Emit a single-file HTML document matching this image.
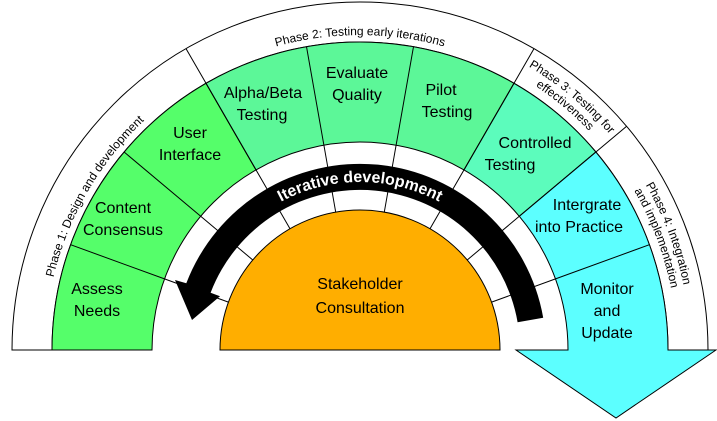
<!DOCTYPE html>
<html><head><meta charset="utf-8"><style>
html,body{margin:0;padding:0;background:#fff}
svg{display:block}
text{font-family:"Liberation Sans",sans-serif}
.l{font-size:16px;fill:#000;text-anchor:middle}
.p{font-size:12px;fill:#000;text-anchor:middle}
</style></head><body>
<svg width="717" height="421" viewBox="0 0 717 421" xmlns="http://www.w3.org/2000/svg">
<defs>
<path id="pa" d="M45,350 A315,315 0 0 1 675,350"/>
<path id="pb" d="M30,350 A330,330 0 0 1 690,350"/>
<path id="pc" d="M43,350 A317,317 0 0 1 677,350"/>
<path id="it" d="M192,350 A168,168 0 0 1 528,350"/>
</defs>
<g stroke="#000" stroke-width="1">
<path d="M12,350 A348,348 0 0 1 708,350 L668,350 A308,308 0 0 0 52,350 Z" fill="#fff"/>
<path d="M52,350 A308,308 0 0 1 206,83.3 L256,169.9 A208,208 0 0 0 152,350 Z" fill="#55fe6a"/>
<path d="M206,83.3 A308,308 0 0 1 514,83.3 L464,169.9 A208,208 0 0 0 256,169.9 Z" fill="#5cf798"/>
<path d="M514,83.3 A308,308 0 0 1 595.9,152 L519.3,216.3 A208,208 0 0 0 464,169.9 Z" fill="#5cfcbc"/>
<path d="M595.9,152 A308,308 0 0 1 668,350 L716,350 L616,418 L516,350 L568,350 A208,208 0 0 0 519.3,216.3 Z" fill="#5cffff"/>
<path d="M70.6,244.7 L164.5,278.9 M124.1,152 L200.7,216.3 M256,169.9 L206,83.3 M306.5,46.7 L323.9,145.2 M413.5,46.7 L396.1,145.2 M514,83.3 L464,169.9 M595.9,152 L519.3,216.3 M649.4,244.7 L555.5,278.9" fill="none"/>
<path d="M206,83.3 L186,48.6 M514,83.3 L534,48.6 M595.9,152 L626.6,126.3" fill="none"/>
<path d="M164.5,278.9 L228.4,302.1 M200.7,216.3 L252.8,260 M256,169.9 L290,228.8 M323.9,145.2 L335.7,212.1 M396.1,145.2 L384.3,212.1 M464,169.9 L430,228.8 M519.3,216.3 L467.2,260 M555.5,278.9 L491.6,302.1" fill="none"/>
<path d="M220,350 A140,140 0 0 1 500,350 Z" fill="#ffae00"/>
<path d="M12,350 L52,350" fill="none"/>
</g>
<path d="M543.2,317.7 A186,186 0 0 0 186.3,283.3 L175,280 L192,320 L220,296.2 L210.6,292.7 A160,160 0 0 1 517.6,322.2 Z" fill="#000"/>
<text font-size="16" font-weight="bold" fill="#fff" text-anchor="middle"><textPath href="#it" startOffset="50%">Iterative development</textPath></text>
<text class="p"><textPath href="#pa" startOffset="16.7%">Phase 1: Design and development</textPath></text>
<text class="p"><textPath href="#pa" startOffset="50%">Phase 2: Testing early iterations</textPath></text>
<text class="p" font-size="11.5"><textPath href="#pb" startOffset="72.2%">Phase 3: Testing for</textPath></text>
<text class="p" font-size="11.5"><textPath href="#pc" startOffset="72.2%">effectiveness</textPath></text>
<text class="p" font-size="11.5"><textPath href="#pb" startOffset="88.5%">Phase 4: Integration</textPath></text>
<text class="p" font-size="11.5"><textPath href="#pc" startOffset="88.5%">and implementation</textPath></text>
<text class="l" x="97" y="294">Assess</text><text class="l" x="97" y="316">Needs</text>
<text class="l" x="123" y="213">Content</text><text class="l" x="123" y="235">Consensus</text>
<text class="l" x="190" y="138">User</text><text class="l" x="190" y="160">Interface</text>
<text class="l" x="263" y="98">Alpha/Beta</text><text class="l" x="262" y="120">Testing</text>
<text class="l" x="357" y="78">Evaluate</text><text class="l" x="357" y="100">Quality</text>
<text class="l" x="441" y="95">Pilot</text><text class="l" x="447" y="117">Testing</text>
<text class="l" x="535" y="148">Controlled</text><text class="l" x="510" y="170">Testing</text>
<text class="l" x="587" y="210">Intergrate</text><text class="l" x="579" y="232">into Practice</text>
<text class="l" x="607" y="294">Monitor</text><text class="l" x="607" y="316">and</text><text class="l" x="607" y="338">Update</text>
<text class="l" font-size="20" x="360" y="289">Stakeholder</text><text class="l" font-size="20" x="360" y="313">Consultation</text>
</svg>
</body></html>
